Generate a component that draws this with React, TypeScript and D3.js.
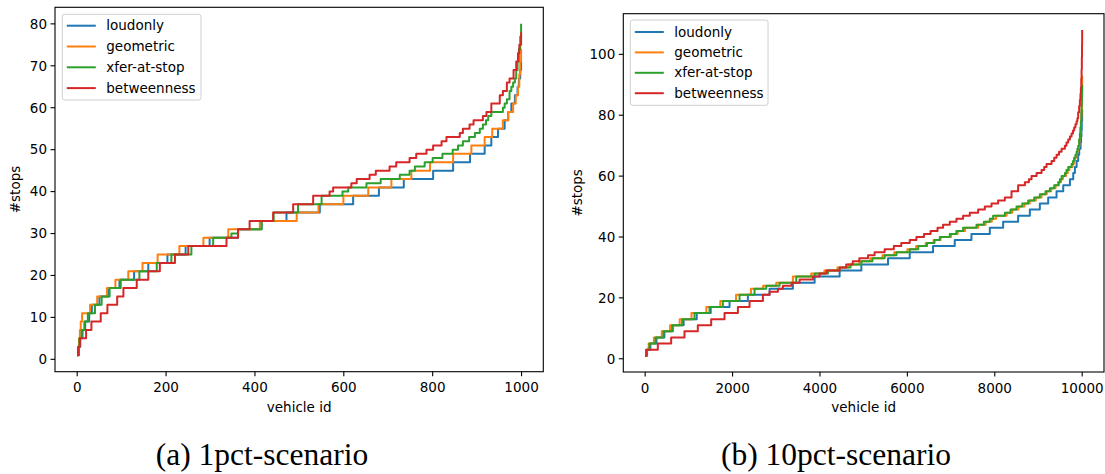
import React from "react";
import * as d3 from "d3";

type Pt = [number, number];

const seriesNames = ["loudonly", "geometric", "xfer-at-stop", "betweenness"];
const seriesColors = ["#1f77b4", "#ff7f0e", "#2ca02c", "#d62728"];
const xLabel = "vehicle id";
const yLabel = "#stops";
const captions = ["(a) 1pct-scenario", "(b) 10pct-scenario"];

// each pair: [vehicle id where the step starts, #stops]
const loudonly1pct: Pt[] = [[0,1],[4,3],[7,5],[12,7],[18,9],[27,11],[33,13],[50,15],[70,17],[95,19],[128,21],[160,23],[203,25],[244,27],[298,29],[362,31],[415,33],[471,35],[546,37],[621,39],[679,41],[735,43],[801,45],[846,47],[884,49],[917,51],[932,53],[947,55],[962,57],[970,59],[977,61],[985,63],[991,65],[994,67],[997,69],[999,71]];
const geometric1pct: Pt[] = [[0,1],[2,3],[4,5],[6,7],[8,9],[11,11],[29,13],[45,15],[67,17],[86,19],[115,21],[147,23],[181,25],[230,27],[284,29],[340,31],[411,33],[494,35],[543,37],[599,39],[655,41],[707,43],[752,45],[794,47],[846,49],[887,51],[917,53],[934,55],[958,57],[970,59],[981,61],[987,63],[992,65],[995,68],[997,71],[999,74]];
const xferAtStop1pct: Pt[] = [[0,1],[3,3],[5,5],[10,7],[16,9],[24,11],[40,13],[55,15],[73,17],[98,19],[140,21],[179,23],[212,25],[257,27],[306,29],[347,30],[362,31],[415,33],[442,35],[497,37],[550,39],[597,40],[610,41],[651,42],[683,43],[726,44],[748,45],[760,46],[782,47],[800,48],[822,49],[845,50],[857,51],[868,52],[882,53],[895,54],[906,55],[913,56],[920,57],[925,58],[932,59],[958,60],[962,61],[967,62],[973,64],[977,65],[981,66],[985,67],[988,69],[991,71],[994,74],[997,77],[999,80]];
const betweenness1pct: Pt[] = [[0,1],[2,3],[6,5],[20,7],[32,9],[53,11],[68,13],[90,15],[104,17],[134,19],[160,21],[186,23],[220,25],[250,27],[336,29],[362,31],[388,33],[441,35],[486,37],[531,39],[568,40],[576,41],[617,42],[629,43],[658,44],[672,45],[703,46],[718,47],[748,48],[763,49],[786,50],[801,51],[820,52],[831,53],[861,54],[868,55],[883,56],[892,57],[913,58],[921,59],[932,61],[951,63],[958,64],[967,66],[973,67],[982,69],[988,71],[992,73],[995,75],[999,78]];

const loudonly10pct: Pt[] = [[0,1],[45,3],[120,5],[260,7],[440,9],[633,11],[880,13],[1180,15],[1500,17],[1931,19],[2350,21],[2847,23],[3381,25],[3878,27],[4450,29],[4947,31],[5557,33],[6054,35],[6588,37],[7084,39],[7466,41],[7886,43],[8191,45],[8534,47],[8802,49],[9031,51],[9222,53],[9413,55],[9566,57],[9719,59],[9795,61],[9833,63],[9872,65],[9908,67],[9932,69],[9963,71],[9975,73],[9983,75],[9990,78],[9999,82]];
const geometric10pct: Pt[] = [[0,1],[25,3],[80,5],[200,7],[380,9],[570,11],[790,13],[1060,15],[1400,17],[1720,19],[2080,21],[2420,23],[2700,24],[3000,25],[3380,27],[3800,28],[4100,29],[4400,30],[4650,31],[4900,32],[5150,33],[5430,34],[5700,35],[6000,36],[6200,37],[6420,38],[6600,39],[6760,40],[7000,41],[7150,42],[7320,43],[7620,44],[7790,45],[7930,46],[8030,47],[8270,48],[8400,49],[8540,50],[8680,51],[8800,52],[8940,53],[9070,54],[9190,55],[9290,56],[9390,57],[9470,58],[9515,59],[9560,60],[9630,61],[9670,62],[9710,63],[9780,64],[9810,65],[9835,66],[9860,67],[9885,68],[9900,69],[9920,70],[9937,72],[9952,74],[9963,76],[9972,78],[9980,80],[9986,82],[9990,85],[9994,88],[9999,93]];
const xferAtStop10pct: Pt[] = [[0,1],[38,3],[99,5],[236,7],[419,9],[618,11],[847,13],[1129,15],[1473,17],[1778,19],[2160,21],[2503,23],[2771,24],[3076,25],[3458,27],[3878,28],[4183,29],[4450,30],[4700,31],[4947,32],[5200,33],[5481,34],[5750,35],[6054,36],[6250,37],[6450,38],[6620,39],[6741,40],[6970,41],[7120,42],[7275,43],[7581,44],[7750,45],[7886,46],[7962,47],[8230,48],[8360,49],[8497,50],[8630,51],[8764,52],[8900,53],[9031,54],[9160,55],[9260,56],[9360,57],[9451,58],[9490,59],[9530,60],[9604,61],[9640,62],[9680,63],[9757,64],[9790,65],[9815,66],[9845,67],[9872,68],[9890,69],[9910,70],[9930,72],[9947,74],[9960,76],[9970,78],[9980,81],[9986,83],[9993,86],[9999,90]];
const betweenness10pct: Pt[] = [[0,1],[23,3],[290,5],[595,7],[900,9],[1205,11],[1511,13],[1816,15],[2122,17],[2389,19],[2694,21],[2847,22],[3038,23],[3152,24],[3350,25],[3534,26],[3839,27],[3992,28],[4146,29],[4450,30],[4600,31],[4750,32],[4900,33],[5100,34],[5250,35],[5480,36],[5690,37],[5860,38],[6054,39],[6207,40],[6380,41],[6530,42],[6690,43],[6817,44],[6970,45],[7123,46],[7275,47],[7428,48],[7619,49],[7772,50],[7925,51],[8076,52],[8230,53],[8383,55],[8534,57],[8688,58],[8780,59],[8841,60],[8956,61],[9070,62],[9130,63],[9185,64],[9299,65],[9360,66],[9414,67],[9470,68],[9528,69],[9604,70],[9640,71],[9680,72],[9720,73],[9757,74],[9790,75],[9817,76],[9845,77],[9872,78],[9890,79],[9908,81],[9930,83],[9947,85],[9960,87],[9970,89],[9979,92],[9986,95],[9992,99],[9996,103],[9999,108]];

const xTicks1pct = [0, 200, 400, 600, 800, 1000];
const yTicks1pct = [0, 10, 20, 30, 40, 50, 60, 70, 80];
const xTicks10pct = [0, 2000, 4000, 6000, 8000, 10000];
const yTicks10pct = [0, 20, 40, 60, 80, 100];

const FONT = "DejaVu Sans, sans-serif";
const FS = 13.5;

type Box = { left: number; right: number; top: number; bottom: number };
type Leg = { x: number; y: number; w: number; h: number; row0: number; rowStep: number };

function Panel(props: {
  series: Pt[][];
  xTicks: number[];
  yTicks: number[];
  box: Box;
  legend: Leg;
  yLabelX: number;
  caption: string;
  captionX: number;
}) {
  const { series, xTicks, yTicks, box, legend, yLabelX, caption, captionX } = props;
  const allX = series.flatMap((s) => s.map((d) => d[0]));
  const allY = series.flatMap((s) => s.map((d) => d[1]));
  const [x0, x1] = d3.extent(allX) as [number, number];
  const [y0, y1] = d3.extent(allY) as [number, number];
  const px = (x1 - x0) * 0.05;
  const py = (y1 - y0) * 0.05;
  const x = d3.scaleLinear().domain([x0 - px, x1 + px]).range([box.left, box.right]);
  const y = d3.scaleLinear().domain([y0 - py, y1 + py]).range([box.bottom, box.top]);
  const line = d3
    .line<Pt>()
    .x((d) => x(d[0]))
    .y((d) => y(d[1]))
    .curve(d3.curveStepAfter);
  const cx = (box.left + box.right) / 2;
  const cy = (box.top + box.bottom) / 2;
  return (
    <g>
      {series.map((s, i) => (
        <path
          key={i}
          d={line(s) || ""}
          fill="none"
          stroke={seriesColors[i]}
          strokeWidth={2}
          strokeLinejoin="round"
        />
      ))}
      <rect
        x={box.left}
        y={box.top}
        width={box.right - box.left}
        height={box.bottom - box.top}
        fill="none"
        stroke="#000"
        strokeWidth={1.1}
      />
      {xTicks.map((t) => (
        <g key={"x" + t}>
          <line x1={x(t)} x2={x(t)} y1={box.bottom} y2={box.bottom + 4.5} stroke="#000" strokeWidth={1.1} />
          <text x={x(t)} y={box.bottom + 20.5} textAnchor="middle" fontFamily={FONT} fontSize={FS} fill="#000">
            {t}
          </text>
        </g>
      ))}
      {yTicks.map((t) => (
        <g key={"y" + t}>
          <line x1={box.left - 4.5} x2={box.left} y1={y(t)} y2={y(t)} stroke="#000" strokeWidth={1.1} />
          <text x={box.left - 8} y={y(t) + 4.8} textAnchor="end" fontFamily={FONT} fontSize={FS} fill="#000">
            {t}
          </text>
        </g>
      ))}
      <text x={cx} y={412} textAnchor="middle" fontFamily={FONT} fontSize={FS} fill="#000">
        {xLabel}
      </text>
      <text
        transform={`translate(${yLabelX},${cy}) rotate(-90)`}
        textAnchor="middle"
        fontFamily={FONT}
        fontSize={FS}
        fill="#000"
      >
        {yLabel}
      </text>
      <rect
        x={legend.x}
        y={legend.y}
        width={legend.w}
        height={legend.h}
        rx={2.5}
        fill="#fff"
        fillOpacity={0.8}
        stroke="#d0d0d0"
        strokeWidth={1}
      />
      {seriesNames.map((n, i) => {
        const ry = legend.row0 + i * legend.rowStep;
        return (
          <g key={n}>
            <line x1={legend.x + 4.5} x2={legend.x + 33.5} y1={ry} y2={ry} stroke={seriesColors[i]} strokeWidth={2} />
            <text x={legend.x + 44} y={ry + 4.6} fontFamily={FONT} fontSize={FS} fill="#000">
              {n}
            </text>
          </g>
        );
      })}
      <text
        x={captionX}
        y={465}
        textAnchor="middle"
        fontFamily="Liberation Serif, Times New Roman, serif"
        fontSize={31.5}
        fill="#000"
      >
        {caption}
      </text>
    </g>
  );
}

export default function App() {
  return (
    <svg
      width={1105}
      height={474}
      style={{ position: "absolute", left: 0, top: 0, background: "#fff" }}
    >
      <rect x={0} y={0} width={1105} height={474} fill="#fff" />
      <Panel
        series={[loudonly1pct, geometric1pct, xferAtStop1pct, betweenness1pct]}
        xTicks={xTicks1pct}
        yTicks={yTicks1pct}
        box={{ left: 55, right: 543.3, top: 7.3, bottom: 371.7 }}
        legend={{ x: 62.3, y: 14.3, w: 138.7, h: 85.7, row0: 25.7, rowStep: 20.8 }}
        yLabelX={20}
        caption={captions[0]}
        captionX={262}
      />
      <Panel
        series={[loudonly10pct, geometric10pct, xferAtStop10pct, betweenness10pct]}
        xTicks={xTicks10pct}
        yTicks={yTicks10pct}
        box={{ left: 623.3, right: 1104, top: 13.7, bottom: 372 }}
        legend={{ x: 630.3, y: 20, w: 137.7, h: 85.3, row0: 32, rowStep: 20.4 }}
        yLabelX={582}
        caption={captions[1]}
        captionX={836}
      />
    </svg>
  );
}
